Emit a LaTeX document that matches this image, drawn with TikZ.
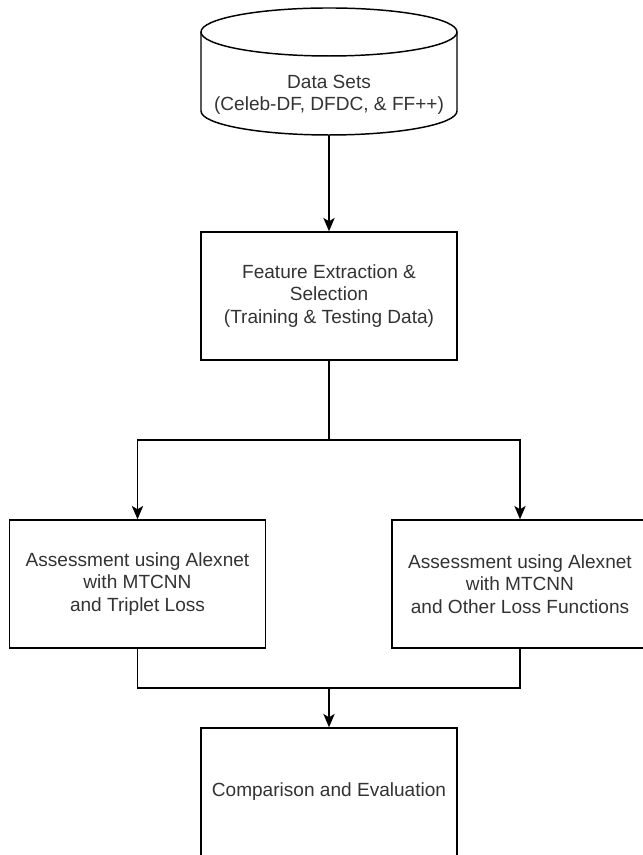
\documentclass[tikz,border=0pt]{standalone}
\usepackage{fontspec}
\setmainfont{Liberation Sans}
\usetikzlibrary{arrows.meta}

\begin{document}
\begin{tikzpicture}[x=0.75pt,y=0.75pt,
        line width=1.1pt,
        txt/.style={align=center,text=black!80,font=\fontsize{14.3}{16.9}\selectfont},
        box/.style={txt,draw=black,minimum width=192pt,minimum height=96pt,inner sep=0pt},
        arr/.style={-{Stealth[length=10pt,width=8.5pt,inset=2.5pt]}}]
        \useasboundingbox (0,0) rectangle (642,855);
        % data base
        \draw (201,823) -- (201,744) arc[start angle=180,end angle=360,x radius=96pt,y radius=18pt] -- (457,823);
        \draw (329,823) ellipse [x radius=96pt,y radius=18pt];
        \node[txt] (data) at (329,760) {Data Sets\\(Celeb-DF, DFDC, \& FF++)};
        \coordinate (dbot) at (329,720);
        % steps
        \node[box] (feat) at (329,559) {Feature Extraction \&\\Selection\\(Training \& Testing Data)};
        \node[box] (triplet) at (137.5,271) {Assessment using Alexnet\\with MTCNN\\and Triplet Loss};
        \node[box] (other) at (520,271) {Assessment using Alexnet\\with MTCNN\\and Other Loss Functions};
        \node[box] (comp) at (329,63) {Comparison and Evaluation};
        \coordinate (split) at (329,415);
        \coordinate (merge) at (329,167);
        % connectors
        \draw[arr] (dbot) -- (feat.north);
        \draw (feat.south) -- (split);
        \draw[arr] (split) -| (triplet.north);
        \draw[arr] (split) -| (other.north);
        \draw (triplet.south) |- (merge);
        \draw (other.south) |- (merge);
        \draw[arr] (merge) -- (comp.north);
    \end{tikzpicture}
\end{document}
